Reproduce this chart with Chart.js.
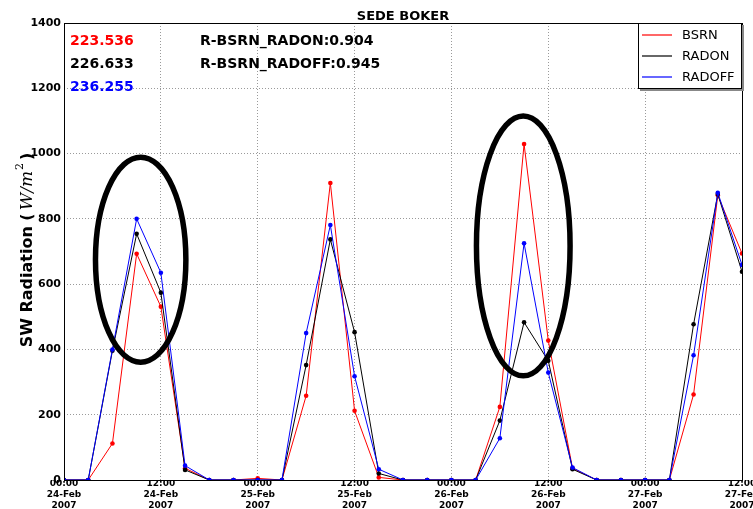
<!DOCTYPE html>
<html>
<head>
<meta charset="utf-8">
<script src="https://cdn.jsdelivr.net/npm/chart.js@4.4.1/dist/chart.umd.min.js"></script>
<style>
  html, body { margin: 0; padding: 0; background: #fff; }
</style>
</head>
<body>
<canvas id="grafico" width="753" height="509"></canvas>
<script>
// 3-hourly samples, hours since 24-Feb-2007 00:00
const hours  = [0, 3, 6, 9, 12, 15, 18, 21, 24, 27, 30, 33, 36, 39, 42, 45, 48, 51, 54, 57, 60, 63, 66, 69, 72, 75, 78, 81, 84];
const bsrn   = [0, 0, 112, 693, 531, 36, 0, 0, 5, 0, 258, 910, 212, 8, 0, 0, 0, 0, 224, 1029, 427, 36, 0, 0, 0, 0, 262, 872, 694];
const radon  = [0, 0, 396, 754, 574, 31, 0, 0, 0, 0, 352, 737, 453, 20, 0, 0, 0, 0, 182, 483, 365, 33, 0, 0, 0, 0, 477, 876, 638];
const radoff = [0, 0, 400, 800, 635, 44, 0, 0, 0, 0, 450, 781, 318, 33, 0, 0, 0, 0, 128, 725, 329, 38, 0, 0, 0, 0, 382, 880, 659];

const seriesNames  = ["BSRN", "RADON", "RADOFF"];
const seriesColors = ["#ff0000", "#000000", "#0000ff"];

const xTickLabels = [
  ["00:00", "24-Feb", "2007"], ["12:00", "24-Feb", "2007"],
  ["00:00", "25-Feb", "2007"], ["12:00", "25-Feb", "2007"],
  ["00:00", "26-Feb", "2007"], ["12:00", "26-Feb", "2007"],
  ["00:00", "27-Feb", "2007"], ["12:00", "27-Feb", "2007"]
];

const means = ["223.536", "226.633", "236.255"];
const correlations = ["R-BSRN_RADON:0.904", "R-BSRN_RADOFF:0.945"];

// highlighted peaks (centre in hours / W m-2, half widths in same units)
const ellipseX  = [9.5, 56.9];
const ellipseY  = [675, 717];
const ellipseRx = [5.6, 5.8];
const ellipseRy = [314, 398];

const FONT = "'DejaVu Sans', sans-serif";

function toPoints(values) {
  return hours.map((h, i) => ({ x: h, y: values[i] }));
}

const overlay = {
  id: "overlay",
  afterDraw(chart) {
    const { ctx, chartArea: a, scales: { x, y } } = chart;
    ctx.save();

    // frame
    ctx.strokeStyle = "#000";
    ctx.lineWidth = 1;
    ctx.strokeRect(a.left + 0.5, a.top + 0.5, a.right - a.left, a.bottom - a.top);

    // ellipses
    ctx.lineWidth = 5.5;
    ctx.strokeStyle = "#000";
    ellipseX.forEach((cx, i) => {
      const px = x.getPixelForValue(cx);
      const py = y.getPixelForValue(ellipseY[i]);
      const rx = x.getPixelForValue(cx + ellipseRx[i]) - px;
      const ry = py - y.getPixelForValue(ellipseY[i] + ellipseRy[i]);
      ctx.beginPath();
      ctx.ellipse(px, py, rx, ry, 0, 0, Math.PI * 2);
      ctx.stroke();
    });

    // title
    ctx.fillStyle = "#000";
    ctx.font = "bold 13px " + FONT;
    ctx.textAlign = "center";
    ctx.textBaseline = "alphabetic";
    ctx.fillText("SEDE BOKER", (a.left + a.right) / 2, 20);

    // means + correlations
    ctx.font = "bold 14px " + FONT;
    ctx.textAlign = "left";
    ctx.textBaseline = "middle";
    means.forEach((t, i) => {
      ctx.fillStyle = seriesColors[i];
      ctx.fillText(t, a.left + 6, a.top + 18 + i * 23);
    });
    ctx.fillStyle = "#000";
    correlations.forEach((t, i) => {
      ctx.fillText(t, a.left + 136, a.top + 18 + i * 23);
    });

    // legend
    const lx = a.right - 104, ly = a.top, lw = 104, lh = 66;
    ctx.fillStyle = "#888";
    ctx.fillRect(lx + 2, ly + 2, lw, lh);
    ctx.fillStyle = "#fff";
    ctx.fillRect(lx, ly, lw, lh);
    ctx.strokeStyle = "#000";
    ctx.lineWidth = 1;
    ctx.strokeRect(lx + 0.5, ly + 0.5, lw - 1, lh - 1);
    ctx.font = "13px " + FONT;
    seriesNames.forEach((name, i) => {
      const yy = ly + 12 + i * 21;
      ctx.strokeStyle = seriesColors[i];
      ctx.lineWidth = 1.2;
      ctx.beginPath();
      ctx.moveTo(lx + 4, yy);
      ctx.lineTo(lx + 34, yy);
      ctx.stroke();
      ctx.fillStyle = "#000";
      ctx.fillText(name, lx + 44, yy + 1);
    });

    // y axis title
    ctx.translate(32, 250);
    ctx.rotate(-Math.PI / 2);
    ctx.textBaseline = "alphabetic";
    const parts = [
      { t: "SW Radiation (", f: "bold 16px " + FONT, dy: 0, gap: 3 },
      { t: "W/m", f: "italic 17px 'DejaVu Serif', serif", dy: 0, gap: 1 },
      { t: "2", f: "11px 'DejaVu Serif', serif", dy: -9, gap: 3 },
      { t: ")", f: "bold 16px " + FONT, dy: 0, gap: 0 }
    ];
    let total = 0;
    parts.forEach(p => { ctx.font = p.f; p.w = ctx.measureText(p.t).width + p.gap; total += p.w; });
    let cx = -total / 2;
    ctx.fillStyle = "#000";
    parts.forEach(p => {
      ctx.font = p.f;
      ctx.fillText(p.t, cx, p.dy);
      cx += p.w;
    });

    ctx.restore();
  }
};

new Chart(document.getElementById("grafico"), {
  type: "line",
  data: {
    datasets: [bsrn, radon, radoff].map((vals, i) => ({
      label: seriesNames[i],
      data: toPoints(vals),
      borderColor: seriesColors[i],
      backgroundColor: seriesColors[i],
      borderWidth: 1,
      pointRadius: 2.3,
      pointBorderWidth: 0,
      tension: 0,
      order: 2 - i
    }))
  },
  options: {
    responsive: false,
    animation: false,
    devicePixelRatio: 1,
    layout: { padding: { top: 23, right: 11, left: 0, bottom: 0 } },
    plugins: { legend: { display: false }, tooltip: { enabled: false } },
    scales: {
      x: {
        type: "linear",
        min: 0,
        max: 84,
        afterFit: s => { s.height = 29; s.paddingLeft = 0; s.paddingRight = 0; },
        afterBuildTicks: s => { s.ticks = xTickLabels.map((_, i) => ({ value: i * 12 })); },
        ticks: {
          callback: v => xTickLabels[v / 12],
          font: { family: FONT, size: 9, weight: "bold", lineHeight: 1.22 },
          color: "#000",
          maxRotation: 0,
          autoSkip: false,
          padding: -2
        },
        grid: { color: "#9a9a9a", drawTicks: false, lineWidth: 1 },
        border: { display: false, dash: [1, 2] }
      },
      y: {
        min: 0,
        max: 1400,
        afterFit: s => { s.width = 64; s.paddingTop = 0; s.paddingBottom = 0; },
        ticks: {
          stepSize: 200,
          callback: v => String(v),
          font: { family: FONT, size: 11, weight: "bold" },
          color: "#000",
          padding: 3
        },
        grid: { color: "#9a9a9a", drawTicks: false, lineWidth: 1 },
        border: { display: false, dash: [1, 2] }
      }
    }
  },
  plugins: [overlay]
});
</script>
</body>
</html>
